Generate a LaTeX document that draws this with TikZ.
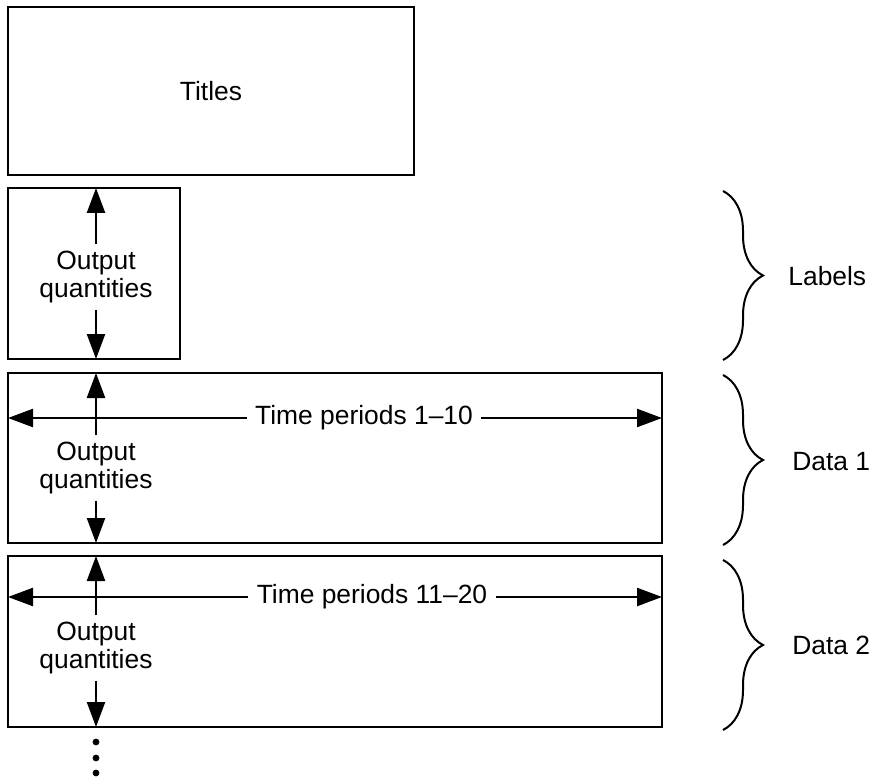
\documentclass[tikz,border=0pt]{standalone}
\usepackage{fontspec}
\setmainfont{Liberation Sans}
\usetikzlibrary{arrows.meta,decorations.pathreplacing,calc}
\tikzset{
  box/.style={draw, line width=1.2pt, outer sep=0pt, inner sep=0pt, anchor=north west},
  txt/.style={font=\fontsize{13.2}{14.2}\selectfont, align=center, inner sep=3pt},
  tper/.style={font=\fontsize{13.2}{14.2}\selectfont, inner sep=4pt},
  side/.style={font=\fontsize{13.2}{14.2}\selectfont, inner sep=0pt, anchor=west},
  arr/.style={line width=1.2pt, -{Triangle[length=12.5pt,width=9pt]}},
  brc/.style={line width=1pt, decorate, decoration={brace, amplitude=20pt}},
  dotn/.style={circle, fill, inner sep=0pt, minimum size=3.4pt}
}
\begin{document}
\begin{tikzpicture}[x=0.5pt,y=-0.5pt]
\useasboundingbox (0,0) rectangle (871,780);
% boxes
\node[box, minimum width=203pt, minimum height=84pt] (titles) at (8,7) {};
\node[txt] (titlestxt) at (titles.center) {Titles};
\node[box, minimum width=86pt, minimum height=85.5pt] (labels) at (8,188) {};
\node[box, minimum width=327pt, minimum height=85pt] (d1) at (8,373) {};
\node[box, minimum width=327pt, minimum height=85.5pt] (d2) at (8,556) {};
% output quantities texts
\node[txt] (lq) at (96,277) {Output\\quantities};
\node[txt] (q1) at (96,468) {Output\\quantities};
\node[txt] (q2) at (96,648) {Output\\quantities};
% time periods texts
\node[tper] (t1) at (364,418) {Time periods 1--10};
\node[tper] (t2) at (372,597) {Time periods 11--20};
% vertical arrows
\draw[arr] (lq.north) -- (lq.north |- labels.north);
\draw[arr] (lq.south) -- (lq.south |- labels.south);
\draw[arr] (q1.north) -- (q1.north |- d1.north);
\draw[arr] (q1.south) -- (q1.south |- d1.south);
\draw[arr] (q2.north) -- (q2.north |- d2.north);
\draw[arr] (q2.south) -- (q2.south |- d2.south);
% horizontal arrows
\draw[arr] (t1.west) -- (t1.west -| d1.west);
\draw[arr] (t1.east) -- (t1.east -| d1.east);
\draw[arr] (t2.west) -- (t2.west -| d2.west);
\draw[arr] (t2.east) -- (t2.east -| d2.east);
% braces
\coordinate (b0a) at (723,191);
\coordinate (b0b) at (723,360);
\coordinate (b1a) at (723,375);
\coordinate (b1b) at (723,545);
\coordinate (b2a) at (723,560);
\coordinate (b2b) at (723,730);
\draw[brc] (b0a) -- (b0b);
\draw[brc] (b1a) -- (b1b);
\draw[brc] (b2a) -- (b2b);
\node[side] (lab0) at (788,276) {Labels};
\node[side] (lab1) at (792,462) {Data 1};
\node[side] (lab2) at (792,645) {Data 2};
% continuation dots
\node[dotn] (dot1) at (96,742) {};
\node[dotn] (dot2) at (96,758) {};
\node[dotn] (dot3) at (96,773) {};
\end{tikzpicture}
\end{document}
